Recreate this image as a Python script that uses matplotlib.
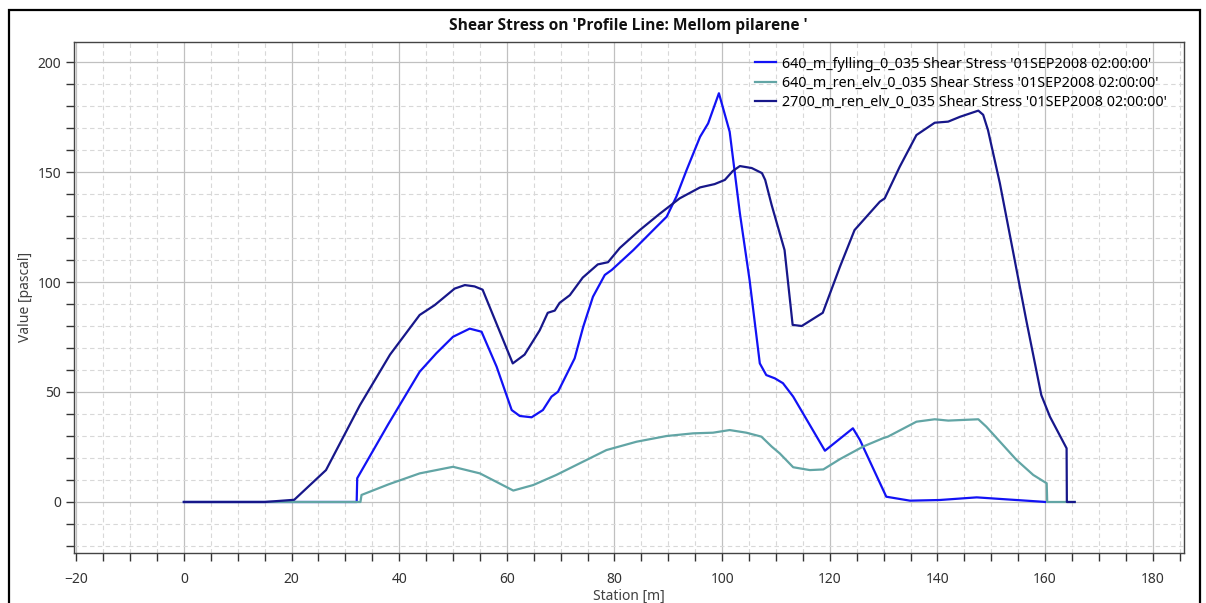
import matplotlib
matplotlib.use("Agg")
from matplotlib import pyplot as plt
from matplotlib.ticker import MultipleLocator
from matplotlib.patches import Rectangle

plt.rcParams['font.family'] = ['Noto Sans', 'DejaVu Sans']

# 640_m_fylling_0_035
fylling_x = [0, 32.1, 32.2, 38.0, 43.8, 46.9, 50.0, 53.1, 55.3, 58.1, 60.9, 62.4, 64.6, 66.7,
             68.3, 69.5, 72.6, 74.2, 76.0, 78.2, 79.5, 83.5, 87.2, 89.7, 91.5, 93.4, 95.9,
             97.4, 99.4, 101.4, 103.3, 105.1, 107.0, 108.2, 109.8, 111.3, 113.2, 119.1,
             124.3, 125.6, 130.5, 134.9, 140.4, 147.3, 152.8, 159.6, 160.0]
fylling_y = [0, 0, 10.8, 35.5, 59.2, 67.6, 75.1, 78.8, 77.4, 61.5, 41.8, 39.1, 38.5, 41.8,
             47.9, 50.1, 65.3, 79.7, 93.3, 103.2, 105.5, 114.5, 123.6, 129.7, 138.8, 150.9,
             166.0, 172.1, 185.8, 168.3, 131.2, 100.9, 63.0, 57.7, 56.2, 54.0, 47.9, 23.3,
             33.5, 28.2, 2.4, 0.6, 0.9, 2.1, 1.2, 0.1, 0]

# 640_m_ren_elv_0_035
ren640_x = [0, 32.8, 33.0, 38.0, 43.8, 50.0, 55.0, 61.2, 64.9, 69.2, 72.9, 78.5, 84.1, 89.7,
            94.6, 98.3, 101.4, 104.5, 107.3, 109.2, 110.7, 113.2, 116.3, 118.8, 121.9, 126.2,
            129.9, 130.8, 136.1, 139.5, 142.0, 147.6, 149.1, 154.7, 157.8, 160.3, 160.4, 165.5]
ren640_y = [0, 0, 3.2, 8.0, 13.0, 16.0, 13.0, 5.2, 7.7, 12.3, 16.8, 23.6, 27.4, 30.0,
            31.2, 31.5, 32.7, 31.5, 29.7, 25.2, 22.1, 15.8, 14.5, 14.8, 19.5, 25.2,
            29.0, 29.7, 36.5, 37.6, 37.0, 37.6, 34.2, 19.1, 12.3, 8.5, 0, 0]

# 2700_m_ren_elv_0_035
ren2700_x = [0, 15.0, 20.5, 26.4, 32.7, 38.3, 43.8, 46.6, 50.3, 52.2, 54.0, 55.5, 61.1, 63.3,
             66.1, 67.6, 68.9, 69.8, 71.7, 74.1, 76.9, 78.8, 81.0, 84.7, 88.4, 92.1, 95.9,
             98.6, 100.5, 102.0, 103.3, 105.5, 107.4, 108.0, 109.2, 111.6, 113.1, 114.8,
             118.7, 121.9, 124.6, 129.3, 130.2, 133.0, 136.1, 139.5, 142.0, 144.2, 147.6,
             148.5, 149.4, 151.6, 154.0, 156.5, 159.3, 160.9, 164.0, 164.05, 165.5]
ren2700_y = [0, 0, 1.0, 14.5, 44.0, 67.0, 85.0, 89.5, 97.0, 98.6, 98.0, 96.5, 63.0, 67.0,
             78.0, 86.0, 87.0, 90.5, 94.0, 102.0, 108.0, 109.0, 115.5, 123.6, 131.0, 138.0,
             143.0, 144.5, 146.4, 150.5, 152.7, 151.8, 149.5, 146.4, 135.0, 114.5, 80.5, 80.0,
             86.0, 107.0, 123.6, 136.5, 138.0, 152.4, 166.8, 172.4, 172.9, 175.1, 177.9,
             176.0, 169.0, 144.9, 114.5, 82.7, 48.6, 38.8, 24.4, 0, 0]

labels = ["640_m_fylling_0_035 Shear Stress '01SEP2008 02:00:00'",
          "640_m_ren_elv_0_035 Shear Stress '01SEP2008 02:00:00'",
          "2700_m_ren_elv_0_035 Shear Stress '01SEP2008 02:00:00'"]
colors = ["#1212f5", "#62a5a5", "#17178a"]

fig = plt.figure(figsize=(12.06, 6.03), dpi=100)
ax = fig.add_axes([0.061, 0.0836, 0.9207, 0.8464])

ax.plot(fylling_x, fylling_y, color=colors[0], lw=1.6, label=labels[0], zorder=3)
ax.plot(ren640_x, ren640_y, color=colors[1], lw=1.6, label=labels[1], zorder=4)
ax.plot(ren2700_x, ren2700_y, color=colors[2], lw=1.6, label=labels[2], zorder=5)

ax.set_xlim(-20.5, 185.8)
ax.set_ylim(-23, 209)
ax.xaxis.set_major_locator(MultipleLocator(20))
ax.xaxis.set_minor_locator(MultipleLocator(5))
ax.set_yticks([0, 50, 100, 150, 200])
ax.yaxis.set_minor_locator(MultipleLocator(10))

ax.grid(which='major', color='#c0c0c0', lw=0.9, ls='-')
ax.grid(which='minor', color='#d8d8d8', lw=0.8, ls=(0, (4, 3)))
ax.set_axisbelow(True)

ax.tick_params(which='both', direction='out', length=6, width=1, color='#333333',
               labelsize=10, labelcolor='#333333')
ax.tick_params(axis='x', which='major', pad=8)
ax.tick_params(axis='y', which='major', pad=3)
for s in ax.spines.values():
    s.set_color('#444444')
    s.set_linewidth(1.0)

ax.set_xlabel("Station [m]", fontsize=10, color='#404040', labelpad=1)
ax.set_ylabel("Value [pascal]", fontsize=10, color='#404040', labelpad=3)
ax.set_title("Shear Stress on 'Profile Line: Mellom pilarene '", fontsize=11.2,
             family=['Open Sans', 'DejaVu Sans'], fontweight='bold', color='#111111',
             pad=9)

ax.legend(loc='upper left', bbox_to_anchor=(0.6136, 0.972), frameon=False, fontsize=10.3,
          handlelength=1.5, handletextpad=0.4, labelspacing=0.3, borderpad=0,
          borderaxespad=0)

# outer frame of the chart window
fig.patches.append(Rectangle((9 / 1206, -0.05), 1191 / 1206, 1.05 - 10 / 603,
                             transform=fig.transFigure, fill=False, lw=1.6,
                             edgecolor='black'))

plt.savefig("out.png", dpi=100)
